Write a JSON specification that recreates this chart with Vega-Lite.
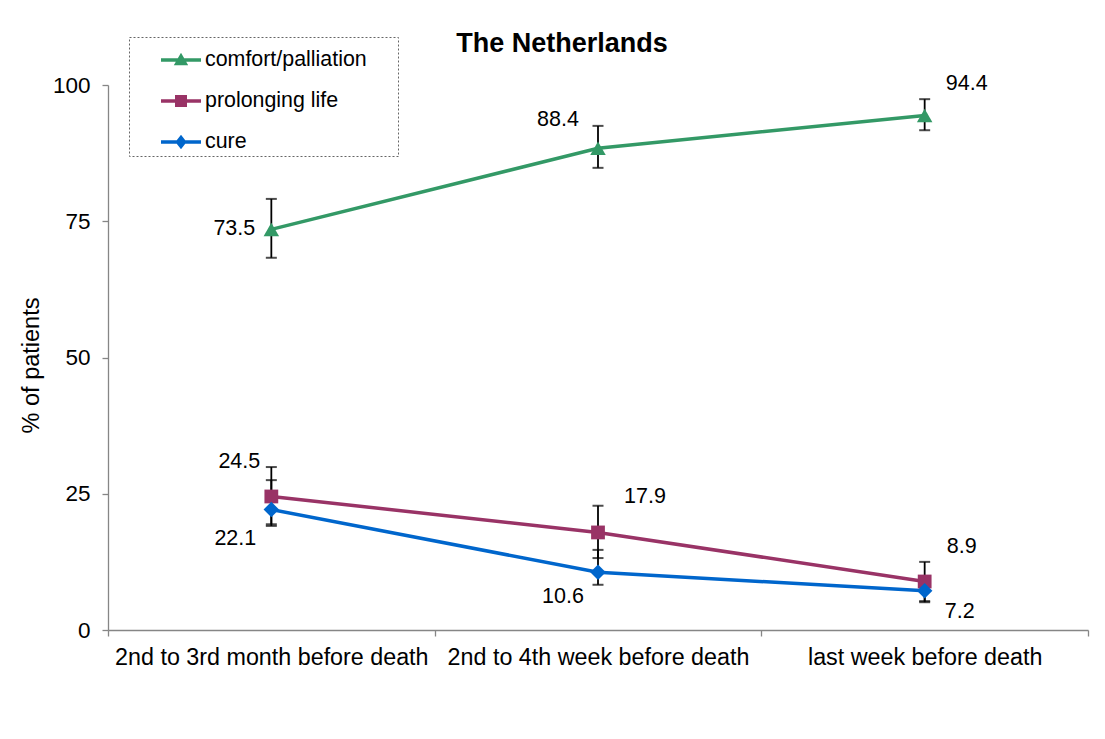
{
  "$schema": "https://vega.github.io/schema/vega-lite/v6.json",
  "autosize": {"type": "none"},
  "padding": {"left": 108, "top": 85, "right": 17, "bottom": 109},
  "width": 980,
  "height": 545,
  "background": "white",
  "config": {
    "font": "Liberation Sans",
    "view": {"stroke": null},
    "axis": {"labelColor": "#000", "titleColor": "#000", "domainColor": "#868686", "tickColor": "#868686", "grid": false}
  },
  "title": {
    "text": "The Netherlands",
    "fontSize": 27,
    "fontWeight": "bold",
    "font": "Liberation Sans",
    "color": "#000",
    "anchor": "middle",
    "frame": "group",
    "dx": -36,
    "dy": 51,
    "offset": 30
  },
  "data": {
    "values": [
      {"period": "2nd to 3rd month before death", "series": "comfort/palliation", "pct": 73.5, "lo": 68.3, "hi": 79.1},
      {"period": "2nd to 4th week before death", "series": "comfort/palliation", "pct": 88.4, "lo": 84.8, "hi": 92.5},
      {"period": "last week before death", "series": "comfort/palliation", "pct": 94.4, "lo": 91.7, "hi": 97.4},
      {"period": "2nd to 3rd month before death", "series": "prolonging life", "pct": 24.5, "lo": 19.1, "hi": 29.9},
      {"period": "2nd to 4th week before death", "series": "prolonging life", "pct": 17.9, "lo": 13.2, "hi": 22.8},
      {"period": "last week before death", "series": "prolonging life", "pct": 8.9, "lo": 5.3, "hi": 12.5},
      {"period": "2nd to 3rd month before death", "series": "cure", "pct": 22.1, "lo": 19.4, "hi": 27.5},
      {"period": "2nd to 4th week before death", "series": "cure", "pct": 10.6, "lo": 8.3, "hi": 14.7},
      {"period": "last week before death", "series": "cure", "pct": 7.2, "lo": 5.1, "hi": 9.3}
    ]
  },
  "encoding": {
    "x": {
      "field": "period",
      "type": "nominal",
      "sort": null,
      "scale": {"type": "band", "paddingInner": 0, "paddingOuter": 0},
      "axis": {"title": null, "labelAngle": 0, "labelFontSize": 23.3, "labelLimit": 0, "labelPadding": 10, "tickSize": 6, "tickBand": "extent", "domainWidth": 1.3, "tickWidth": 1.3}
    }
  },
  "layer": [
    {
      "mark": {"type": "line", "strokeWidth": 3.5},
      "encoding": {
        "y": {
          "field": "pct",
          "type": "quantitative",
          "scale": {"domain": [0, 100]},
          "axis": {"title": "% of patients", "titleFontSize": 23.5, "titleFontWeight": "normal", "titlePadding": 9, "titleY": 280, "labelFontSize": 22.5, "labelPadding": 12, "tickSize": 6, "values": [0, 25, 50, 75, 100], "domainWidth": 1.3, "tickWidth": 1.3}
        },
        "color": {
          "field": "series",
          "type": "nominal",
          "sort": ["comfort/palliation", "prolonging life", "cure"],
          "scale": {"domain": ["comfort/palliation", "prolonging life", "cure"], "range": ["#339966", "#993366", "#0066cc"]},
          "legend": {
            "orient": "none",
            "legendX": 21,
            "legendY": -48,
            "title": " ",
            "titleOrient": "right",
            "titleFontSize": 1,
            "titlePadding": 28,
            "padding": 3,
            "symbolOffset": 29,
            "symbolSize": 1600,
            "labelOffset": 4,
            "labelFontSize": 21.4,
            "labelLimit": 0,
            "labelColor": "#000",
            "labelFont": "Liberation Sans",
            "rowPadding": 10,
            "strokeColor": "#666",
            "encode": {
              "legend": {"update": {"strokeDash": {"value": [2, 2]}, "strokeWidth": {"value": 1}}},
              "symbols": {
                "update": {
                  "shape": {"signal": "datum.value === 'comfort/palliation' ? 'M-1,-0.09H1V0.09H-1Z M0,-0.36L0.36,0.26L-0.36,0.26Z' : datum.value === 'prolonging life' ? 'M-1,-0.09H1V0.09H-1Z M-0.3,-0.3H0.3V0.3H-0.3Z' : 'M-1,-0.09H1V0.09H-1Z M0,-0.36L0.28,0L0,0.36L-0.28,0Z'"},
                  "fill": {"signal": "scale('color', datum.value)"},
                  "stroke": {"value": "transparent"},
                  "strokeWidth": {"value": 0}
                }
              }
            }
          }
        }
      }
    },
    {
      "mark": {"type": "rule", "color": "#000", "strokeWidth": 1.8},
      "encoding": {
        "y": {"field": "lo", "type": "quantitative"},
        "y2": {"field": "hi"}
      }
    },
    {
      "mark": {"type": "tick", "color": "#000", "size": 11, "thickness": 2},
      "encoding": {"y": {"field": "lo", "type": "quantitative"}}
    },
    {
      "mark": {"type": "tick", "color": "#000", "size": 11, "thickness": 2},
      "encoding": {"y": {"field": "hi", "type": "quantitative"}}
    },
    {
      "transform": [{"filter": {"field": "series", "equal": "comfort/palliation"}}],
      "mark": {"type": "point", "shape": "triangle-up", "filled": true, "opacity": 1, "size": 240, "color": "#339966"},
      "encoding": {"y": {"field": "pct", "type": "quantitative"}}
    },
    {
      "transform": [{"filter": {"field": "series", "equal": "prolonging life"}}],
      "mark": {"type": "point", "shape": "square", "filled": true, "opacity": 1, "size": 190, "color": "#993366"},
      "encoding": {"y": {"field": "pct", "type": "quantitative"}}
    },
    {
      "transform": [{"filter": {"field": "series", "equal": "cure"}}],
      "mark": {"type": "point", "shape": "diamond", "filled": true, "opacity": 1, "size": 240, "color": "#0066cc"},
      "encoding": {"y": {"field": "pct", "type": "quantitative"}}
    },
    {"transform": [{"filter": {"field": "pct", "equal": 73.5}}], "mark": {"type": "text", "fontSize": 21.5, "dx": -37, "dy": 0}, "encoding": {"y": {"field": "pct", "type": "quantitative"}, "text": {"field": "pct", "format": ".1f"}}},
    {"transform": [{"filter": {"field": "pct", "equal": 88.4}}], "mark": {"type": "text", "fontSize": 21.5, "dx": -40, "dy": -28}, "encoding": {"y": {"field": "pct", "type": "quantitative"}, "text": {"field": "pct", "format": ".1f"}}},
    {"transform": [{"filter": {"field": "pct", "equal": 94.4}}], "mark": {"type": "text", "fontSize": 21.5, "dx": 42, "dy": -32}, "encoding": {"y": {"field": "pct", "type": "quantitative"}, "text": {"field": "pct", "format": ".1f"}}},
    {"transform": [{"filter": {"field": "pct", "equal": 24.5}}], "mark": {"type": "text", "fontSize": 21.5, "dx": -32, "dy": -34}, "encoding": {"y": {"field": "pct", "type": "quantitative"}, "text": {"field": "pct", "format": ".1f"}}},
    {"transform": [{"filter": {"field": "pct", "equal": 17.9}}], "mark": {"type": "text", "fontSize": 21.5, "dx": 47, "dy": -35}, "encoding": {"y": {"field": "pct", "type": "quantitative"}, "text": {"field": "pct", "format": ".1f"}}},
    {"transform": [{"filter": {"field": "pct", "equal": 8.9}}], "mark": {"type": "text", "fontSize": 21.5, "dx": 37, "dy": -34}, "encoding": {"y": {"field": "pct", "type": "quantitative"}, "text": {"field": "pct", "format": ".1f"}}},
    {"transform": [{"filter": {"field": "pct", "equal": 22.1}}], "mark": {"type": "text", "fontSize": 21.5, "dx": -36, "dy": 29}, "encoding": {"y": {"field": "pct", "type": "quantitative"}, "text": {"field": "pct", "format": ".1f"}}},
    {"transform": [{"filter": {"field": "pct", "equal": 10.6}}], "mark": {"type": "text", "fontSize": 21.5, "dx": -35, "dy": 25}, "encoding": {"y": {"field": "pct", "type": "quantitative"}, "text": {"field": "pct", "format": ".1f"}}},
    {"transform": [{"filter": {"field": "pct", "equal": 7.2}}], "mark": {"type": "text", "fontSize": 21.5, "dx": 35, "dy": 21}, "encoding": {"y": {"field": "pct", "type": "quantitative"}, "text": {"field": "pct", "format": ".1f"}}}
  ]
}
